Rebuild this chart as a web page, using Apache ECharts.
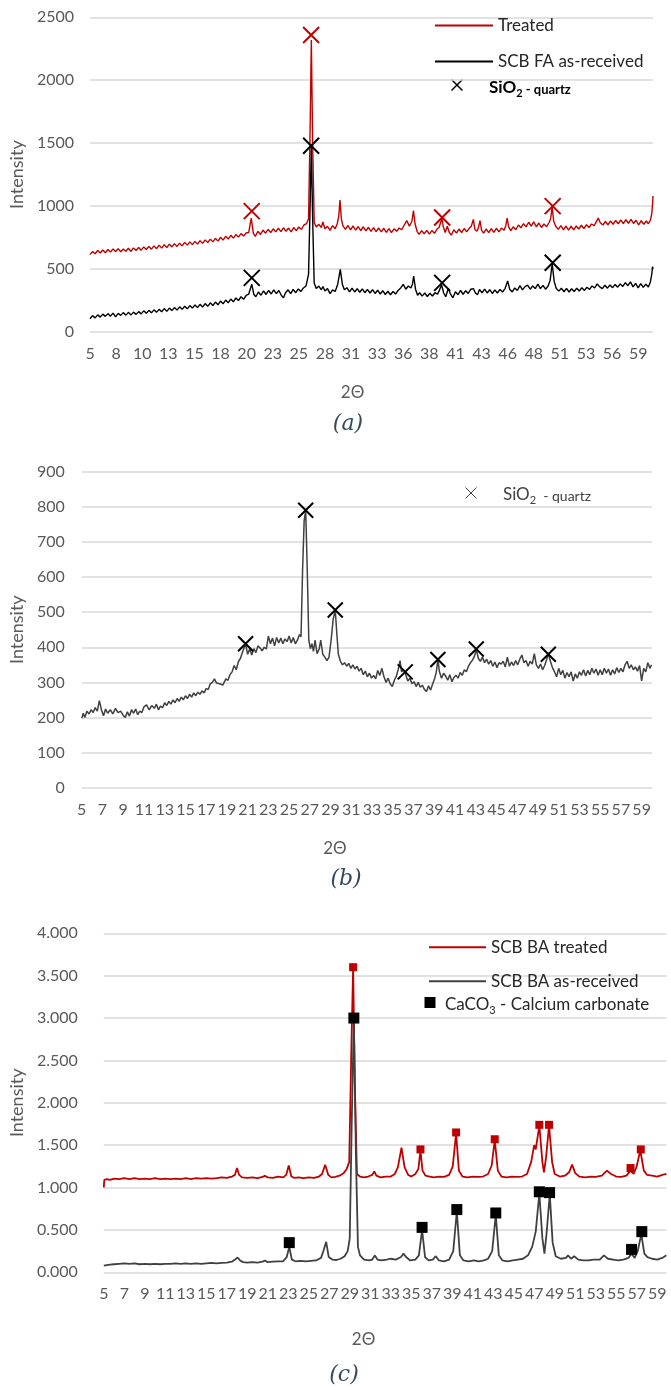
<!DOCTYPE html>
<html>
<head>
<meta charset="utf-8">
<script src="https://cdn.jsdelivr.net/npm/echarts@6/dist/echarts.min.js"></script>
<style>
html,body{margin:0;padding:0;background:#fff;}
#c{width:671px;height:1390px;}
</style>
</head>
<body>
<div id="c"></div>
<script>
// ---------------- DATA ----------------
// x tick label positions (2θ)
const aXTicks = [5,7.55,10.1,12.65,15.2,17.75,20.3,22.85,25.4,27.95,30.5,33.05,35.6,38.15,40.7,43.25,45.8,48.35,50.9,53.45,56,58.55];
const bXTicks = [5,7,9,11,13,15,17,19,21,23,25,27,29,31,33,35,37,39,41,43,45,47,49,51,53,55,57,59];
const cXTicks = [5,7,9,11,13,15,17,19,21,23,25,27,29,31,33,35,37,39,41,43,45,47,49,51,53,55,57,59];

// Panel (a): Treated (red)
const aTreated = [[5.0,615],[5.25,640],[5.5,622],[5.75,648],[6.0,628],[6.25,652],[6.5,630],[6.75,655],[7.0,636],[7.25,660],[7.5,640],[7.75,662],[8.0,638],[8.25,660],[8.5,642],[8.75,665],[9.0,640],[9.25,668],[9.5,648],[9.75,672],[10.0,650],[10.25,676],[10.5,655],[10.75,680],[11.0,658],[11.25,684],[11.5,662],[11.75,690],[12.0,666],[12.25,694],[12.5,670],[12.75,698],[13.0,676],[13.25,702],[13.5,680],[13.75,706],[14.0,684],[14.25,712],[14.5,690],[14.75,716],[15.0,694],[15.25,720],[15.5,698],[15.75,726],[16.0,704],[16.25,732],[16.5,710],[16.75,738],[17.0,716],[17.25,744],[17.5,722],[17.75,752],[18.0,730],[18.25,760],[18.5,738],[18.75,768],[19.0,746],[19.25,774],[19.5,754],[19.75,782],[20.0,762],[20.25,786],[20.5,790],[20.75,905],[20.95,785],[21.15,760],[21.4,800],[21.65,775],[21.9,810],[22.15,785],[22.4,815],[22.65,790],[22.9,820],[23.15,795],[23.4,825],[23.65,798],[23.9,828],[24.15,800],[24.4,826],[24.65,796],[24.9,830],[25.15,805],[25.4,834],[25.65,815],[25.9,850],[26.15,860],[26.35,900],[26.5,1600],[26.62,2320],[26.75,1500],[26.9,870],[27.1,835],[27.35,855],[27.6,830],[27.75,875],[27.95,820],[28.2,840],[28.45,808],[28.7,845],[28.95,820],[29.15,860],[29.3,920],[29.42,1048],[29.55,900],[29.7,845],[29.95,815],[30.2,846],[30.45,812],[30.7,842],[30.95,810],[31.2,838],[31.45,806],[31.7,836],[31.95,804],[32.2,832],[32.45,800],[32.7,830],[32.95,798],[33.2,826],[33.45,795],[33.7,824],[33.95,792],[34.2,822],[34.45,790],[34.7,820],[34.95,800],[35.2,826],[35.45,812],[35.7,850],[35.95,885],[36.2,840],[36.45,880],[36.6,965],[36.75,860],[36.95,800],[37.15,775],[37.4,805],[37.65,780],[37.9,808],[38.15,778],[38.4,806],[38.65,784],[38.9,818],[39.1,830],[39.25,870],[39.38,900],[39.5,840],[39.7,790],[39.9,840],[40.1,790],[40.3,770],[40.55,812],[40.8,785],[41.05,818],[41.3,790],[41.55,822],[41.8,796],[42.05,825],[42.25,840],[42.45,895],[42.6,815],[42.8,800],[42.95,830],[43.1,885],[43.25,810],[43.45,785],[43.7,818],[43.95,790],[44.2,822],[44.45,792],[44.7,824],[44.95,796],[45.2,826],[45.45,808],[45.62,845],[45.75,905],[45.9,835],[46.1,805],[46.35,836],[46.6,812],[46.85,850],[47.1,828],[47.35,860],[47.6,835],[47.85,872],[48.1,842],[48.35,875],[48.6,836],[48.85,866],[49.1,830],[49.35,858],[49.6,836],[49.85,870],[50.0,900],[50.15,992],[50.3,880],[50.5,840],[50.75,815],[51.0,845],[51.25,812],[51.5,842],[51.75,810],[52.0,840],[52.25,812],[52.5,842],[52.75,818],[53.0,848],[53.25,822],[53.5,852],[53.75,830],[54.0,858],[54.25,845],[54.5,880],[54.65,905],[54.85,868],[55.1,850],[55.35,878],[55.6,852],[55.85,882],[56.1,856],[56.35,886],[56.6,860],[56.85,890],[57.1,862],[57.35,892],[57.6,864],[57.85,894],[58.1,862],[58.35,888],[58.6,850],[58.85,884],[59.1,856],[59.35,882],[59.55,860],[59.75,890],[59.88,940],[59.96,1020],[60.0,1080]];
// Panel (a): SCB FA as-received (black)
const aRaw = [[5.0,105],[5.25,130],[5.5,112],[5.75,136],[6.0,118],[6.25,142],[6.5,124],[6.75,146],[7.0,126],[7.25,150],[7.5,120],[7.75,148],[8.0,132],[8.25,154],[8.5,134],[8.75,156],[9.0,136],[9.25,158],[9.5,140],[9.75,162],[10.0,144],[10.25,168],[10.5,148],[10.75,172],[11.0,152],[11.25,176],[11.5,156],[11.75,180],[12.0,160],[12.25,186],[12.5,164],[12.75,190],[13.0,170],[13.25,194],[13.5,174],[13.75,200],[14.0,180],[14.25,204],[14.5,184],[14.75,210],[15.0,190],[15.25,214],[15.5,194],[15.75,220],[16.0,198],[16.25,226],[16.5,204],[16.75,232],[17.0,210],[17.25,238],[17.5,216],[17.75,246],[18.0,224],[18.25,254],[18.5,232],[18.75,262],[19.0,240],[19.25,270],[19.5,250],[19.75,280],[20.0,260],[20.25,290],[20.5,300],[20.8,380],[21.0,300],[21.2,280],[21.45,318],[21.7,292],[21.95,326],[22.2,298],[22.45,330],[22.7,302],[22.95,334],[23.2,305],[23.45,330],[23.7,290],[23.9,272],[24.1,312],[24.35,335],[24.6,305],[24.85,338],[25.1,312],[25.35,342],[25.6,322],[25.85,350],[26.1,365],[26.35,460],[26.5,1000],[26.62,1470],[26.75,900],[26.9,390],[27.1,345],[27.35,365],[27.6,335],[27.75,362],[27.95,325],[28.2,345],[28.45,305],[28.7,335],[28.95,322],[29.2,380],[29.45,498],[29.65,380],[29.85,335],[30.1,352],[30.35,318],[30.6,348],[30.85,318],[31.1,344],[31.35,316],[31.6,342],[31.85,312],[32.1,338],[32.35,310],[32.6,336],[32.85,306],[33.1,332],[33.35,302],[33.6,328],[33.85,298],[34.1,324],[34.35,296],[34.6,322],[34.85,302],[35.1,330],[35.35,350],[35.6,378],[35.85,340],[36.1,365],[36.35,350],[36.5,380],[36.62,445],[36.8,340],[37.0,292],[37.2,312],[37.45,285],[37.7,310],[37.95,282],[38.2,308],[38.45,286],[38.7,312],[38.95,300],[39.15,335],[39.35,375],[39.55,310],[39.75,280],[40.0,345],[40.2,305],[40.45,272],[40.7,320],[40.95,296],[41.2,330],[41.45,300],[41.7,328],[41.95,306],[42.2,340],[42.45,345],[42.65,310],[42.85,296],[43.05,338],[43.3,312],[43.55,340],[43.8,310],[44.05,336],[44.3,306],[44.55,334],[44.8,310],[45.05,338],[45.3,318],[45.55,345],[45.8,405],[46.0,340],[46.25,318],[46.5,350],[46.75,330],[47.0,368],[47.25,335],[47.5,360],[47.75,372],[48.0,340],[48.25,366],[48.5,345],[48.75,380],[49.0,345],[49.25,370],[49.5,340],[49.75,365],[49.95,410],[50.15,540],[50.35,400],[50.55,345],[50.8,325],[51.05,348],[51.3,320],[51.55,346],[51.8,318],[52.05,344],[52.3,322],[52.55,348],[52.8,326],[53.05,352],[53.3,330],[53.55,356],[53.8,338],[54.05,366],[54.3,350],[54.55,382],[54.8,358],[55.05,345],[55.3,372],[55.55,348],[55.8,374],[56.05,352],[56.3,378],[56.55,356],[56.8,382],[57.05,362],[57.3,392],[57.55,368],[57.8,398],[58.05,358],[58.3,386],[58.55,350],[58.8,384],[59.05,355],[59.3,380],[59.55,358],[59.75,400],[59.88,460],[59.96,520],[60.0,500]];
// Panel (a): SiO2 quartz markers
const aTreatedMarks = [[20.8,960],[26.6,2360],[39.4,910],[50.2,1000]];
const aRawMarks = [[20.8,430],[26.6,1480],[39.4,390],[50.2,550]];

// Panel (b): single pattern
const bData = [[5.0,198],[5.15,212],[5.3,200],[5.5,218],[5.7,210],[5.9,222],[6.1,214],[6.3,228],[6.5,218],[6.7,248],[6.9,222],[7.1,205],[7.3,224],[7.5,212],[7.75,222],[8.0,210],[8.25,226],[8.5,214],[8.75,218],[9.0,206],[9.2,200],[9.4,216],[9.6,204],[9.8,222],[10.0,212],[10.2,224],[10.4,208],[10.6,218],[10.8,214],[11.0,230],[11.25,236],[11.5,222],[11.75,234],[12.0,226],[12.2,238],[12.4,222],[12.6,232],[12.8,228],[13.0,242],[13.2,234],[13.4,246],[13.6,238],[13.8,250],[14.0,242],[14.2,254],[14.4,246],[14.6,258],[14.8,250],[15.0,262],[15.2,254],[15.4,266],[15.6,258],[15.8,270],[16.0,262],[16.2,272],[16.4,266],[16.6,276],[16.8,270],[17.0,282],[17.2,280],[17.4,296],[17.6,300],[17.8,310],[18.0,298],[18.3,296],[18.6,292],[18.9,310],[19.1,306],[19.3,322],[19.5,330],[19.7,348],[19.9,336],[20.1,358],[20.3,368],[20.5,386],[20.8,410],[21.0,380],[21.2,395],[21.4,378],[21.6,396],[21.8,385],[22.0,404],[22.2,398],[22.4,390],[22.6,400],[22.8,395],[23.0,432],[23.2,410],[23.4,426],[23.6,404],[23.8,428],[24.0,412],[24.2,426],[24.4,410],[24.6,424],[24.8,416],[25.0,432],[25.2,412],[25.4,428],[25.6,410],[25.8,420],[26.0,436],[26.15,430],[26.3,620],[26.45,760],[26.6,790],[26.75,620],[26.9,420],[27.05,396],[27.2,410],[27.35,388],[27.5,420],[27.7,382],[27.9,395],[28.05,420],[28.25,380],[28.45,372],[28.65,362],[28.85,372],[29.05,420],[29.25,480],[29.45,506],[29.6,440],[29.75,380],[29.95,360],[30.15,350],[30.35,356],[30.55,346],[30.75,354],[30.95,340],[31.15,350],[31.35,338],[31.55,346],[31.75,332],[31.95,340],[32.15,322],[32.35,332],[32.55,316],[32.75,326],[32.95,312],[33.15,320],[33.35,310],[33.55,334],[33.75,320],[33.95,340],[34.15,316],[34.35,300],[34.55,312],[34.75,296],[34.95,288],[35.15,306],[35.35,318],[35.55,340],[35.7,362],[35.85,330],[36.05,336],[36.25,322],[36.45,304],[36.65,312],[36.85,296],[37.05,302],[37.25,288],[37.45,300],[37.65,286],[37.85,292],[38.05,280],[38.25,274],[38.45,290],[38.65,278],[38.85,296],[39.05,312],[39.2,330],[39.35,365],[39.5,330],[39.7,312],[39.9,326],[40.1,318],[40.3,306],[40.5,322],[40.7,302],[40.9,314],[41.1,320],[41.3,312],[41.5,328],[41.7,320],[41.9,336],[42.1,330],[42.3,346],[42.5,356],[42.7,364],[42.9,376],[43.05,395],[43.25,368],[43.45,360],[43.65,372],[43.85,356],[44.05,366],[44.25,352],[44.45,362],[44.65,346],[44.85,358],[45.05,342],[45.25,356],[45.45,352],[45.65,360],[45.85,344],[46.05,372],[46.25,346],[46.45,358],[46.65,348],[46.85,362],[47.05,350],[47.25,366],[47.45,378],[47.65,356],[47.85,362],[48.05,346],[48.25,360],[48.45,352],[48.65,382],[48.85,350],[49.05,340],[49.25,352],[49.45,336],[49.65,348],[49.85,366],[50.0,382],[50.2,360],[50.4,342],[50.6,330],[50.8,316],[51.0,340],[51.2,322],[51.4,334],[51.6,312],[51.8,328],[52.0,316],[52.2,330],[52.4,304],[52.6,324],[52.8,312],[53.0,330],[53.2,320],[53.4,336],[53.6,318],[53.8,334],[54.0,322],[54.2,340],[54.4,326],[54.6,338],[54.8,320],[55.0,336],[55.2,322],[55.4,340],[55.6,326],[55.8,338],[56.0,320],[56.2,336],[56.4,324],[56.6,342],[56.8,328],[57.0,340],[57.2,330],[57.4,350],[57.6,360],[57.8,340],[58.0,350],[58.2,336],[58.4,344],[58.6,332],[58.8,348],[59.0,304],[59.2,340],[59.4,330],[59.6,356],[59.8,340],[59.95,350]];
const bMarks = [[20.8,410],[26.6,790],[29.45,506],[36.2,330],[39.35,365],[43.05,395],[50.0,380]];

// Panel (c): SCB BA treated (red)
const cTreated = [[5.0,1.0],[5.05,1.09],[5.3,1.1],[5.6,1.09],[6.0,1.105],[6.5,1.1],[7.0,1.11],[7.5,1.1],[8.0,1.11],[8.5,1.1],[9.0,1.105],[9.5,1.1],[10.0,1.11],[10.5,1.1],[11.0,1.105],[11.5,1.1],[12.0,1.105],[12.5,1.1],[13.0,1.11],[13.5,1.1],[14.0,1.11],[14.5,1.105],[15.0,1.11],[15.5,1.105],[16.0,1.11],[16.5,1.12],[17.0,1.115],[17.5,1.13],[17.8,1.15],[18.0,1.23],[18.2,1.15],[18.5,1.12],[19.0,1.115],[19.5,1.12],[20.0,1.11],[20.5,1.125],[20.7,1.14],[21.0,1.12],[21.5,1.115],[22.0,1.13],[22.5,1.12],[22.8,1.15],[23.05,1.26],[23.3,1.13],[23.6,1.115],[24.0,1.12],[24.5,1.11],[25.0,1.12],[25.5,1.115],[26.0,1.13],[26.3,1.16],[26.6,1.27],[26.9,1.15],[27.2,1.12],[27.6,1.125],[28.0,1.14],[28.4,1.17],[28.7,1.22],[28.95,1.3],[29.15,2.6],[29.33,3.6],[29.5,2.2],[29.7,1.16],[30.0,1.13],[30.4,1.12],[30.8,1.13],[31.2,1.15],[31.4,1.19],[31.6,1.14],[32.0,1.12],[32.5,1.13],[33.0,1.13],[33.4,1.16],[33.7,1.24],[34.05,1.47],[34.35,1.24],[34.7,1.15],[35.0,1.13],[35.4,1.16],[35.7,1.22],[35.9,1.44],[36.1,1.2],[36.4,1.14],[36.8,1.13],[37.2,1.12],[37.7,1.13],[38.2,1.125],[38.7,1.15],[39.05,1.25],[39.38,1.64],[39.65,1.2],[40.0,1.13],[40.5,1.12],[41.0,1.13],[41.5,1.125],[42.0,1.13],[42.5,1.16],[42.85,1.26],[43.15,1.56],[43.45,1.2],[43.8,1.13],[44.3,1.12],[44.8,1.13],[45.3,1.125],[45.8,1.13],[46.3,1.16],[46.7,1.3],[47.0,1.5],[47.15,1.45],[47.5,1.73],[47.8,1.3],[47.95,1.18],[48.15,1.35],[48.45,1.73],[48.75,1.3],[49.0,1.16],[49.5,1.13],[50.0,1.14],[50.4,1.18],[50.7,1.27],[51.0,1.17],[51.4,1.13],[52.0,1.12],[52.5,1.13],[53.0,1.125],[53.6,1.14],[54.1,1.2],[54.5,1.16],[55.0,1.13],[55.5,1.125],[56.0,1.14],[56.4,1.2],[56.7,1.16],[57.0,1.25],[57.35,1.44],[57.7,1.2],[58.0,1.15],[58.5,1.14],[59.0,1.13],[59.5,1.15],[59.9,1.16]];
// Panel (c): SCB BA as-received (dark grey)
const cRaw = [[5.0,0.08],[5.3,0.085],[5.6,0.09],[6.0,0.095],[6.5,0.1],[7.0,0.105],[7.5,0.1],[8.0,0.105],[8.5,0.095],[9.0,0.1],[9.5,0.095],[10.0,0.1],[10.5,0.095],[11.0,0.1],[11.5,0.1],[12.0,0.105],[12.5,0.1],[13.0,0.105],[13.5,0.1],[14.0,0.105],[14.5,0.1],[15.0,0.105],[15.5,0.11],[16.0,0.105],[16.5,0.11],[17.0,0.115],[17.5,0.125],[17.8,0.15],[18.05,0.175],[18.3,0.14],[18.6,0.12],[19.0,0.115],[19.5,0.12],[20.0,0.115],[20.5,0.125],[20.7,0.14],[21.0,0.12],[21.5,0.125],[22.0,0.13],[22.5,0.13],[22.85,0.18],[23.1,0.3],[23.35,0.15],[23.7,0.13],[24.2,0.135],[24.7,0.13],[25.2,0.135],[25.7,0.14],[26.2,0.17],[26.45,0.26],[26.7,0.36],[26.95,0.18],[27.3,0.15],[27.7,0.145],[28.1,0.16],[28.5,0.19],[28.8,0.25],[29.0,0.4],[29.2,1.8],[29.4,3.0],[29.6,1.4],[29.8,0.3],[30.0,0.2],[30.4,0.15],[30.9,0.14],[31.2,0.15],[31.45,0.2],[31.7,0.15],[32.1,0.14],[32.6,0.15],[33.0,0.16],[33.5,0.15],[34.0,0.18],[34.25,0.22],[34.5,0.18],[34.9,0.14],[35.4,0.15],[35.75,0.2],[36.06,0.5],[36.35,0.18],[36.7,0.14],[37.1,0.15],[37.4,0.19],[37.7,0.14],[38.2,0.13],[38.7,0.15],[39.1,0.25],[39.45,0.72],[39.75,0.2],[40.1,0.14],[40.6,0.13],[41.1,0.14],[41.6,0.13],[42.1,0.14],[42.5,0.16],[42.9,0.25],[43.25,0.68],[43.55,0.2],[43.9,0.14],[44.4,0.13],[44.9,0.14],[45.4,0.15],[45.9,0.16],[46.4,0.2],[46.8,0.3],[47.15,0.48],[47.5,0.93],[47.8,0.4],[48.0,0.22],[48.2,0.45],[48.52,0.92],[48.8,0.35],[49.1,0.19],[49.6,0.16],[50.1,0.17],[50.3,0.2],[50.6,0.16],[50.9,0.19],[51.3,0.15],[51.8,0.14],[52.3,0.14],[52.8,0.15],[53.4,0.15],[53.8,0.2],[54.2,0.16],[54.7,0.15],[55.2,0.14],[55.7,0.15],[56.2,0.17],[56.5,0.22],[56.8,0.17],[57.1,0.25],[57.45,0.45],[57.75,0.22],[58.05,0.18],[58.5,0.16],[59.0,0.15],[59.5,0.17],[59.9,0.2]];
// Panel (c): CaCO3 markers
const cTreatedMarks = [[29.33,3.6],[35.9,1.45],[39.38,1.65],[43.15,1.57],[47.5,1.74],[48.45,1.74],[56.4,1.23],[57.4,1.45]];
const cRawMarks = [[23.1,0.35],[29.4,3.0],[36.06,0.53],[39.45,0.74],[43.25,0.7],[47.5,0.95],[48.5,0.94],[56.5,0.27],[57.5,0.48]];

// ---------------- CHART ----------------
const FONT = 'Lato';
const TICK = '#595959';
const GRID = '#d9d9d9';
const RED = '#c00000';
const CROSS = 'path://M0,0L10,10M10,0L0,10';
const LEGLINE = 'path://M0,0H58V2H0Z';

const chart = echarts.init(document.getElementById('c'), null, {renderer: 'canvas'});

function xAx(gi, max, ticks, gapName, padR) {
  return {
    type: 'value', gridIndex: gi, min: 5, max: max,
    axisLine: {show: false}, axisTick: {show: false}, splitLine: {show: false},
    axisLabel: {customValues: ticks, formatter: v => String(Math.round(v)), color: TICK, fontFamily: FONT, fontSize: 16, margin: 14, showMinLabel: true, showMaxLabel: true},
    name: '2Θ', nameLocation: 'middle', nameGap: gapName,
    nameTextStyle: {color: TICK, fontFamily: FONT, fontSize: 17, padding: [0, padR, 0, 0]}
  };
}
function yAx(gi, max, interval, fmt, margin, gapName) {
  return {
    type: 'value', gridIndex: gi, min: 0, max: max, interval: interval,
    axisLine: {show: false}, axisTick: {show: false},
    splitLine: {show: true, lineStyle: {color: GRID, width: 1.5}},
    axisLabel: {formatter: fmt, color: TICK, fontFamily: FONT, fontSize: 16, margin: margin},
    name: 'Intensity', nameLocation: 'middle', nameGap: gapName, nameRotate: 90,
    nameTextStyle: {color: TICK, fontFamily: FONT, fontSize: 18}
  };
}
function line(name, data, color, idx, z, w) {
  return {type: 'line', name: name, data: data, xAxisIndex: idx, yAxisIndex: idx,
    symbol: 'none', lineStyle: {color: color, width: w}, itemStyle: {color: color},
    z: z, animation: false};
}
function marks(name, data, idx, symbol, size, fill, stroke, bw) {
  return {type: 'scatter', name: name, data: data, xAxisIndex: idx, yAxisIndex: idx,
    symbol: symbol, symbolSize: size,
    itemStyle: {color: fill, borderColor: stroke, borderWidth: bw, opacity: 1},
    z: 10, animation: false, silent: true};
}
function cross(cx, cy, s, color, w) {
  const h = s / 2;
  return {type: 'group', children: [
    {type: 'line', shape: {x1: cx - h, y1: cy - h, x2: cx + h, y2: cy + h}, style: {stroke: color, lineWidth: w}},
    {type: 'line', shape: {x1: cx - h, y1: cy + h, x2: cx + h, y2: cy - h}, style: {stroke: color, lineWidth: w}}
  ]};
}
function caption(t, cx, cy) {
  return {type: 'text', x: cx, y: cy, style: {text: t, align: 'center', verticalAlign: 'middle',
    font: 'italic 22px "DejaVu Serif"', fill: '#34495e'}};
}

const option = {
  backgroundColor: '#fff',
  animation: false,
  textStyle: {fontFamily: FONT},
  grid: [
    {left: 82.6, right: 18, top: 17.3, height: 314.7},
    {left: 76.2, right: 19, top: 471.7, height: 316},
    {left: 86.9, right: 4.6, top: 933.3, height: 339}
  ],
  xAxis: [
    xAx(0, 60, aXTicks, 52, 38),
    xAx(1, 60, bXTicks, 52, 64),
    xAx(2, 59.9, cXTicks, 59, 43)
  ],
  yAxis: [
    yAx(0, 2500, 500, v => String(v), 16, 54),
    yAx(1, 900, 100, v => String(v), 17, 45),
    yAx(2, 4, 0.5, v => v.toFixed(3), 26, 55)
  ],
  legend: [
    {orient: 'vertical', left: 430, top: 12, itemWidth: 58, itemHeight: 14, itemGap: 19,
     data: [{name: 'Treated', icon: LEGLINE}, {name: 'SCB FA as-received', icon: LEGLINE}],
     textStyle: {fontFamily: FONT, fontSize: 17, color: '#262626'}},
    {orient: 'vertical', left: 424, top: 933.7, itemWidth: 57, itemHeight: 14, itemGap: 17,
     data: [{name: 'SCB BA treated', icon: LEGLINE}, {name: 'SCB BA as-received', icon: LEGLINE}],
     textStyle: {fontFamily: FONT, fontSize: 17, color: '#262626'}}
  ],
  series: [
    line('Treated', aTreated, RED, 0, 2, 1.4),
    line('SCB FA as-received', aRaw, '#000000', 0, 3, 1.4),
    marks('SiO2 (treated)', aTreatedMarks, 0, CROSS, 16, 'rgba(0,0,0,0)', RED, 2),
    marks('SiO2 (as-received)', aRawMarks, 0, CROSS, 16, 'rgba(0,0,0,0)', '#000000', 2),
    line('SCB FA (b)', bData, '#404040', 1, 2, 1.5),
    marks('SiO2 (b)', bMarks, 1, CROSS, 15, 'rgba(0,0,0,0)', '#000000', 2),
    line('SCB BA treated', cTreated, RED, 2, 2, 1.8),
    line('SCB BA as-received', cRaw, '#404040', 2, 3, 1.8),
    marks('CaCO3 (treated)', cTreatedMarks, 2, 'rect', 8, RED, RED, 0),
    marks('CaCO3 (as-received)', cRawMarks, 2, 'rect', 11, '#000000', '#000000', 0)
  ],
  graphic: [
    cross(457, 85, 11, '#000000', 1.5),
    {type: 'text', x: 489, y: 88, style: {
      text: '{a|SiO}{s|2}{b| - quartz}', verticalAlign: 'middle',
      rich: {
        a: {fontFamily: FONT, fontSize: 17, fontWeight: 'bold', fill: '#000', color: '#000'},
        s: {fontFamily: FONT, fontSize: 11, fontWeight: 'bold', fill: '#000', color: '#000', padding: [10, 0, 0, 0]},
        b: {fontFamily: FONT, fontSize: 13, fontWeight: 'bold', fill: '#000', color: '#000', padding: [4, 0, 0, 0]}
      }}},
    cross(471, 493, 11, '#404040', 1),
    {type: 'text', x: 503, y: 495, style: {
      text: '{a|SiO}{s|2}{b|  - quartz}', verticalAlign: 'middle',
      rich: {
        a: {fontFamily: FONT, fontSize: 17, fill: '#404040', color: '#404040'},
        s: {fontFamily: FONT, fontSize: 11, fill: '#404040', color: '#404040', padding: [10, 0, 0, 0]},
        b: {fontFamily: FONT, fontSize: 14, fill: '#404040', color: '#404040', padding: [3, 0, 0, 0]}
      }}},
    {type: 'rect', shape: {x: 424.5, y: 997, width: 11, height: 11}, style: {fill: '#000'}},
    {type: 'text', x: 445, y: 1005, style: {
      text: '{a|CaCO}{s|3}{a| - Calcium carbonate}', verticalAlign: 'middle',
      rich: {
        a: {fontFamily: FONT, fontSize: 17, fill: '#262626', color: '#262626'},
        s: {fontFamily: FONT, fontSize: 11, fill: '#262626', color: '#262626', padding: [10, 0, 0, 0]}
      }}},
    caption('(a)', 348, 424),
    caption('(b)', 346, 879),
    caption('(c)', 344, 1375)
  ]
};
chart.setOption(option);
</script>
</body>
</html>
